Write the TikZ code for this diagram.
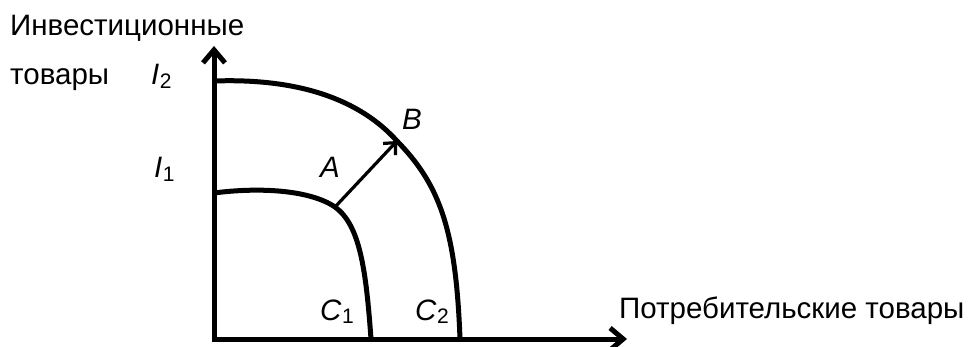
\documentclass[tikz,border=0pt]{standalone}
\usepackage{fontspec}
\setmainfont{Liberation Sans}
\usetikzlibrary{arrows.meta}
\newcommand{\mylbl}[2]{\textit{#1}\kern0.5pt\raisebox{-3.5pt}{\fontsize{21}{21}\selectfont #2}}
\begin{document}
\begin{tikzpicture}[x=1pt,y=-1pt,
  txt/.style={inner sep=0pt, anchor=base west, font=\fontsize{29.5}{34}\selectfont},
  axisline/.style={line width=5pt, -{Straight Barb[length=13pt,width=22pt]}},
  curveline/.style={line width=5pt},
  shiftarrow/.style={line width=3.2pt, -{Straight Barb[length=9pt,width=17pt]}}]
\path[use as bounding box, fill=white] (0,0) rectangle (976,347);
\coordinate (O) at (214,339);
\coordinate (Ostart) at (211.5,339);
\coordinate (Overt) at (214,341.5);
\coordinate (ytip) at (214,46);
\coordinate (xtip) at (627,339);
\draw[axisline] (Overt) -- (ytip);
\draw[axisline] (Ostart) -- (xtip);
% curves
\coordinate (c1s) at (214,193);
\coordinate (Apt) at (335,207);
\coordinate (c1e) at (371,339);
\coordinate (c2s) at (214,81);
\coordinate (Bpt) at (397,141);
\coordinate (c2e) at (460,339);
\draw[curveline] (c1s) .. controls (260,187) and (310,190) .. (Apt)
  .. controls (360,225) and (366,270) .. (c1e);
\draw[curveline] (c2s) .. controls (300,78) and (360,100) .. (Bpt)
  .. controls (440,185) and (456,230) .. (c2e);
\draw[shiftarrow] (Apt) -- (Bpt);
% texts
\node[txt] (inv) at (10,36) {Инвестиционные};
\node[txt] (tov) at (10,85) {товары};
\node[txt] (potr) at (619,318) {Потребительские товары};
\node[txt] (I2) at (151,85) {\mylbl{I}{2}};
\node[txt] (I1) at (154,178) {\mylbl{I}{1}};
\node[txt] (A) at (320,178) {\textit{A}};
\node[txt] (B) at (402,130) {\textit{B}};
\node[txt] (C1) at (320,320) {\mylbl{C}{1}};
\node[txt] (C2) at (415,320) {\mylbl{C}{2}};
\end{tikzpicture}
\end{document}
